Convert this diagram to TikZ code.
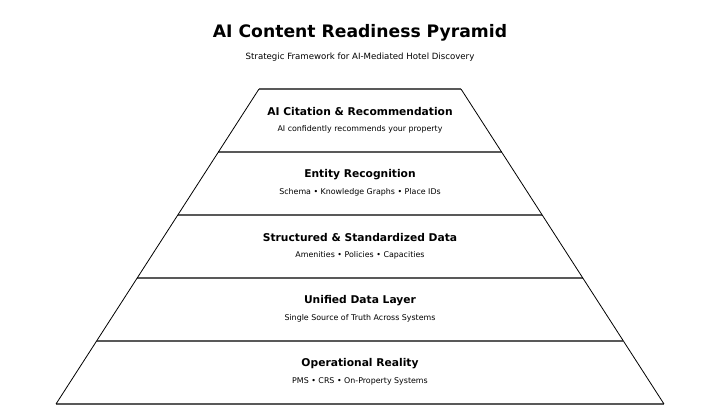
\documentclass[tikz,border=0pt]{standalone}
\usepackage{fontspec}
\setmainfont{DejaVu Sans}
\begin{document}
\begin{tikzpicture}[x=1pt,y=-1pt,
  hline/.style={draw=black!65,line width=1.4pt},
  sline/.style={draw=black,line width=0.8pt},
  titletext/.style={font=\bfseries\fontsize{17.2}{20}\selectfont,inner sep=0pt},
  subtitletext/.style={font=\fontsize{8.6}{10}\selectfont,inner sep=0pt},
  layertitle/.style={font=\bfseries\fontsize{10.7}{12}\selectfont,inner sep=0pt},
  layersub/.style={font=\fontsize{7.9}{9}\selectfont,inner sep=0pt}]
\useasboundingbox (0,0) rectangle (720,409);
\fill[white] (0,0) rectangle (720,409);
% corners
\coordinate (tl) at (259,89);
\coordinate (tr) at (461,89);
\coordinate (bl) at (56,404);
\coordinate (br) at (664,404);
% horizontal boundaries
\foreach \i/\y in {0/89,1/152,2/215,3/278,4/341,5/404}{
  \pgfmathsetmacro{\dx}{0.64444*(\y-89)}
  \coordinate (L\i) at ({259-\dx},\y);
  \coordinate (R\i) at ({461+\dx},\y);
}
\foreach \i in {0,...,5}{\draw[hline] (L\i) -- (R\i);}
\draw[sline] (tl) -- (bl);
\draw[sline] (tr) -- (br);
\node[titletext] (title) at (360,32.5) {AI Content Readiness Pyramid};
\node[subtitletext] (subtitle) at (360,57.5) {Strategic Framework for AI-Mediated Hotel Discovery};
\node[layertitle] (t1) at (360,112) {AI Citation \& Recommendation};
\node[layersub] (s1) at (360,129) {AI confidently recommends your property};
\node[layertitle] (t2) at (360,175) {Entity Recognition};
\node[layersub] (s2) at (360,192) {Schema • Knowledge Graphs • Place IDs};
\node[layertitle] (t3) at (360,238) {Structured \& Standardized Data};
\node[layersub] (s3) at (360,255) {Amenities • Policies • Capacities};
\node[layertitle] (t4) at (360,301) {Unified Data Layer};
\node[layersub] (s4) at (360,318) {Single Source of Truth Across Systems};
\node[layertitle] (t5) at (360,364) {Operational Reality};
\node[layersub] (s5) at (360,381) {PMS • CRS • On-Property Systems};
\end{tikzpicture}
\end{document}
